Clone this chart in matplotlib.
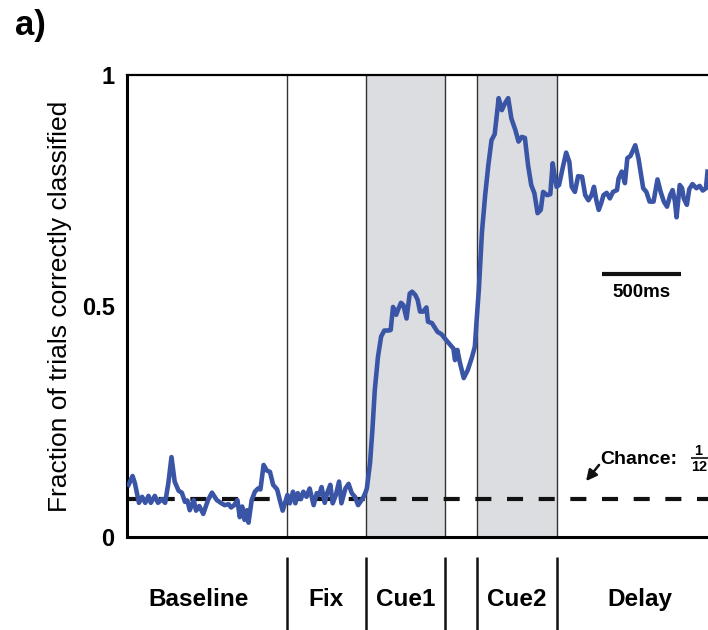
import matplotlib
matplotlib.use('Agg')
import matplotlib.pyplot as plt
from matplotlib import transforms

plt.rcParams['font.family'] = ['Liberation Sans', 'DejaVu Sans']

# time relative to Cue1 onset (ms) and decoding accuracy
times = [-1495, -1470, -1455, -1430, -1410, -1390, -1370, -1355, -1330, -1310,
         -1285, -1265, -1245, -1225, -1205, -1180, -1160, -1140, -1125, -1110,
         -1085, -1070, -1050, -1025, -995, -970, -940, -910, -890, -865,
         -850, -830, -810, -795, -780, -765, -750, -740, -720, -700,
         -680, -665, -645, -625, -605, -585, -560, -540, -525, -495,
         -480, -460, -445, -430, -410, -395, -375, -355, -330, -310,
         -295, -280, -260, -245, -225, -210, -190, -170, -155, -130,
         -110, -90, -70, -50, -20, -5, 5, 25, 40, 55,
         75, 95, 115, 140, 155, 170, 190, 205, 220, 235,
         255, 275, 290, 310, 325, 340, 360, 380, 390, 415,
         430, 450, 475, 505, 530, 550, 560, 575, 590, 615,
         640, 665, 685, 695, 710, 730, 750, 770, 790, 810,
         835, 855, 875, 895, 915, 940, 960, 980, 1000, 1020,
         1040, 1060, 1080, 1100, 1115, 1140, 1160, 1175, 1185, 1200,
         1215, 1240, 1260, 1280, 1295, 1315, 1335, 1360, 1380, 1400,
         1420, 1435, 1450, 1465, 1480, 1495, 1515, 1535, 1555, 1580,
         1590, 1610, 1630, 1645, 1665, 1695, 1715, 1730, 1745, 1765,
         1785, 1810, 1835, 1855, 1875, 1895, 1915, 1930, 1945, 1955,
         1975, 1990, 2000, 2020, 2035, 2055, 2080, 2100, 2120, 2140,
         2150]
accuracy = [0.113, 0.132, 0.116, 0.074, 0.087, 0.074, 0.089, 0.074, 0.089, 0.074,
            0.082, 0.074, 0.116, 0.173, 0.120, 0.100, 0.096, 0.076, 0.079, 0.058,
            0.080, 0.057, 0.067, 0.050, 0.080, 0.096, 0.080, 0.073, 0.069, 0.071,
            0.064, 0.069, 0.080, 0.043, 0.066, 0.037, 0.058, 0.031, 0.080, 0.098,
            0.105, 0.103, 0.156, 0.144, 0.141, 0.113, 0.103, 0.076, 0.057, 0.091,
            0.073, 0.098, 0.073, 0.095, 0.082, 0.098, 0.087, 0.105, 0.069, 0.095,
            0.091, 0.108, 0.074, 0.095, 0.113, 0.073, 0.091, 0.120, 0.073, 0.105,
            0.115, 0.095, 0.087, 0.069, 0.084, 0.095, 0.105, 0.160, 0.232, 0.318,
            0.390, 0.434, 0.447, 0.447, 0.448, 0.498, 0.481, 0.495, 0.507, 0.502,
            0.473, 0.527, 0.531, 0.524, 0.513, 0.488, 0.488, 0.497, 0.466, 0.463,
            0.455, 0.444, 0.439, 0.426, 0.416, 0.408, 0.383, 0.405, 0.379, 0.344,
            0.361, 0.387, 0.412, 0.463, 0.535, 0.661, 0.740, 0.805, 0.859, 0.872,
            0.950, 0.924, 0.939, 0.950, 0.906, 0.881, 0.856, 0.866, 0.864, 0.805,
            0.762, 0.744, 0.701, 0.708, 0.747, 0.740, 0.742, 0.809, 0.787, 0.758,
            0.762, 0.802, 0.832, 0.812, 0.758, 0.747, 0.781, 0.780, 0.740, 0.729,
            0.740, 0.758, 0.729, 0.708, 0.722, 0.740, 0.745, 0.733, 0.747, 0.751,
            0.776, 0.791, 0.766, 0.820, 0.825, 0.848, 0.820, 0.787, 0.755, 0.747,
            0.726, 0.726, 0.774, 0.747, 0.726, 0.715, 0.740, 0.751, 0.726, 0.692,
            0.762, 0.755, 0.733, 0.719, 0.753, 0.764, 0.755, 0.760, 0.750, 0.755,
            0.791]

chance = 1 / 12
epoch_names = ['Baseline', 'Fix', 'Cue1', 'Cue2', 'Delay']
epoch_edges = [-500, 0, 500, 700, 1200]
cue_spans = [(0, 500), (700, 1200)]
label_pos = [-1055, -250, 250, 950, 1725]

fig = plt.figure(figsize=(7.08, 6.3), dpi=100)
ax = fig.add_axes([0.1794, 0.1476, 0.8206, 0.7333])

for a, b in cue_spans:
    ax.axvspan(a, b, color='#dcdde0', lw=0, zorder=0)
for e in epoch_edges:
    ax.axvline(e, color='#333333', lw=1.0, zorder=1)

ax.plot([-1505, 2160], [chance, chance], color='#111111', lw=3,
        dashes=(3.85, 3.75), zorder=2)
ax.plot(times, accuracy, color='#3a55a6', lw=3.3, solid_joinstyle='round',
        zorder=3)

ax.set_xlim(-1505, 2153)
ax.set_ylim(0, 1)
ax.set_yticks([0, 0.5, 1])
ax.set_yticklabels(['0', '0.5', '1'], fontsize=17, fontweight='bold')
ax.set_xticks([])
ax.tick_params(axis='y', length=0, pad=9)
ax.spines['right'].set_visible(False)
ax.spines['left'].set_linewidth(2.2)
ax.spines['bottom'].set_linewidth(2.2)
ax.spines['top'].set_linewidth(1.6)
ax.set_ylabel('Fraction of trials correctly classified', fontsize=19,
              labelpad=7)

# epoch labels and separators under the axis
trans = transforms.blended_transform_factory(ax.transData, ax.transAxes)
ax.vlines(epoch_edges, -0.2015, -0.043, color='#111111', lw=1.8,
          transform=trans, clip_on=False)
for name, x in zip(epoch_names, label_pos):
    ax.text(x, -0.135, name, transform=trans, ha='center', va='center',
            fontsize=17.5, fontweight='bold')

# 500 ms scale bar
ax.plot([1485, 1985], [0.569, 0.569], color='#111111', lw=3,
        solid_capstyle='butt')
ax.text(1735, 0.529, '500ms', ha='center', va='center', fontsize=13.5,
        fontweight='bold')

# chance annotation with a stacked 1/12 fraction
ax.annotate('', xy=(1385, 0.121), xytext=(1467, 0.156),
            arrowprops=dict(arrowstyle='-|>', color='#111111', lw=1.8,
                            mutation_scale=16, shrinkA=0, shrinkB=0))
ax.text(1473, 0.158, 'Chance:', ha='left', va='baseline', fontsize=14,
        fontweight='bold')
ax.plot([2045, 2153], [0.170, 0.170], color='#111111', lw=1.2,
        solid_capstyle='butt', clip_on=False)
ax.text(2090, 0.186, '1', ha='center', va='center', fontsize=10.5,
        fontweight='bold')
ax.text(2098, 0.151, '12', ha='center', va='center', fontsize=10.5,
        fontweight='bold')

fig.text(0.021, 0.945, 'a)', fontsize=25, fontweight='bold', ha='left',
         va='baseline')

fig.savefig('out.png', dpi=100)
